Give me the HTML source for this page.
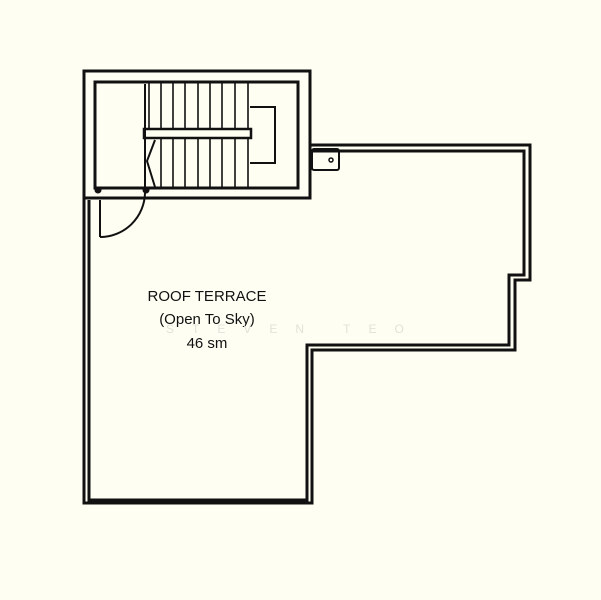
<!DOCTYPE html>
<html><head><style>
body{margin:0;background:#fefef3;}
svg{display:block}
text{font-family:"Liberation Sans",sans-serif;fill:#111}
</style></head><body>
<svg width="601" height="600" viewBox="0 0 601 600">
<rect width="601" height="600" fill="#fefef3"/>
<g fill="none" stroke="#111" stroke-width="3">
<rect x="84" y="71" width="226" height="127"/>
<rect x="95" y="82" width="203" height="106"/>
<polyline points="310,145 530,145 530,280 515,280 515,350 312,350 312,503 84,503 84,198"/>
<polyline points="310,151 524,151 524,275 509,275 509,345 307,345 307,500 89,500 89,200"/>
</g>
<g stroke="#111" stroke-width="2" fill="none">
<line x1="100" y1="200" x2="100" y2="237"/>
<path d="M100,237 A45,45 0 0 0 145,193"/>
<line x1="145" y1="84" x2="145" y2="188"/>
<rect x="144" y="129" width="107" height="9" stroke-width="2.5"/>
<polyline points="250,107 275,107 275,163 250,163"/>
<polyline points="155,140 147,161 155,187"/>
<rect x="312" y="149" width="27" height="21" rx="2"/>
</g>
<g stroke="#111" stroke-width="1.6">
<line x1="149" y1="83" x2="149" y2="128"/>
<line x1="161" y1="83" x2="161" y2="128"/><line x1="173" y1="83" x2="173" y2="128"/>
<line x1="185" y1="83" x2="185" y2="128"/><line x1="198" y1="83" x2="198" y2="128"/>
<line x1="210" y1="83" x2="210" y2="128"/><line x1="222" y1="83" x2="222" y2="128"/>
<line x1="235" y1="83" x2="235" y2="128"/><line x1="248" y1="83" x2="248" y2="128"/>
<line x1="161" y1="139" x2="161" y2="187"/><line x1="173" y1="139" x2="173" y2="187"/>
<line x1="185" y1="139" x2="185" y2="187"/><line x1="198" y1="139" x2="198" y2="187"/>
<line x1="210" y1="139" x2="210" y2="187"/><line x1="222" y1="139" x2="222" y2="187"/>
<line x1="235" y1="139" x2="235" y2="187"/><line x1="248" y1="139" x2="248" y2="187"/>
</g>
<circle cx="98" cy="190" r="3.5" fill="#111"/>
<circle cx="146" cy="190" r="3.5" fill="#111"/>
<circle cx="331" cy="160" r="2" fill="none" stroke="#111" stroke-width="1.5"/>
<text x="207" y="301" font-size="15" text-anchor="middle">ROOF TERRACE</text>
<text x="207" y="324" font-size="15" text-anchor="middle">(Open To Sky)</text>
<text x="207" y="348" font-size="15" text-anchor="middle">46 sm</text>
<text x="166" y="333" font-size="12" style="fill:#e2e2d8" letter-spacing="18">STEVEN TEO</text>
</svg>
</body></html>
